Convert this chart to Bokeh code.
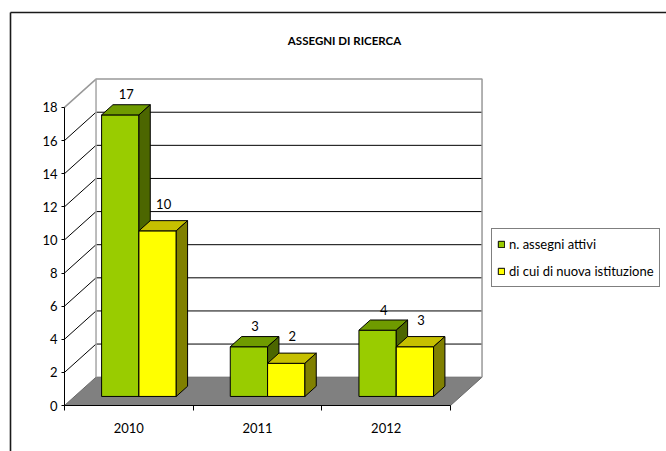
from bokeh.plotting import figure
from bokeh.models import (Range1d, FixedTicker, Legend, LegendItem, Label, LinearAxis)
from bokeh.core.properties import value
from bokeh.embed import file_html
from bokeh.resources import INLINE

# ---------------- data ----------------
title_text = "ASSEGNI DI RICERCA"
years = ["2010", "2011", "2012"]
series_names = ["n. assegni attivi", "di cui di nuova istituzione"]
attivi = [17, 3, 4]
nuova = [10, 2, 3]
y_ticks = [0, 2, 4, 6, 8, 10, 12, 14, 16, 18]

# ---------------- layout constants ----------------
W, H = 666, 451
ORIGIN_X, ORIGIN_Y = 64, 405      # canvas px of data point (0, 0)
SX, SY = 128.67, 16.56            # px per category unit / per value unit
DX, DY = 0.245, 1.71              # full depth offset in data units
Z_FRONT, Z_BACK = 0.32, 0.68
GAP, BAR_W = 0.21, 0.29
Y_MAX = y_ticks[-1]
NCAT = len(years)
FONT = "Lato"

def px_to_x(px):
    return (px - ORIGIN_X) / SX

def py_to_y(py):
    return (ORIGIN_Y - py) / SY

def proj(x, y, z):
    return x + z * DX, y + z * DY

p = figure(width=W, height=H, output_backend="svg", toolbar_location=None,
           x_range=Range1d(px_to_x(0), px_to_x(W)),
           y_range=Range1d(py_to_y(H), py_to_y(0)),
           x_axis_type=None, y_axis_type=None, min_border=0)
p.outline_line_color = None
p.xgrid.visible = False
p.ygrid.visible = False
p.background_fill_color = "white"
p.border_fill_color = "white"

# chart-area border (left and top)
bx, by = px_to_x(10), py_to_y(12)
p.segment(x0=[bx, bx], y0=[py_to_y(H), by], x1=[bx, px_to_x(W)], y1=[by, by],
          line_color="#1a1a1a", line_width=1.6)

# ---------------- walls and floor ----------------
# left wall
p.patch(x=[0, DX, DX, 0], y=[0, DY, Y_MAX + DY, Y_MAX], fill_color="white", line_color=None)
# back wall
p.patch(x=[DX, NCAT + DX, NCAT + DX, DX], y=[DY, DY, Y_MAX + DY, Y_MAX + DY],
        fill_color="white", line_color=None)
# floor
p.patch(x=[0, NCAT, NCAT + DX, DX], y=[0, 0, DY, DY], fill_color="#808080", line_color="#6a6a6a",
        line_width=1)

grid_vals = [v for v in y_ticks if 0 < v < Y_MAX]
# gridlines on left wall
p.segment(x0=[0] * len(grid_vals), y0=grid_vals, x1=[DX] * len(grid_vals),
          y1=[v + DY for v in grid_vals], line_color="black", line_width=1)
# gridlines on back wall
p.segment(x0=[DX] * len(grid_vals), y0=[v + DY for v in grid_vals],
          x1=[NCAT + DX] * len(grid_vals), y1=[v + DY for v in grid_vals],
          line_color="black", line_width=1)
# wall edges (grey)
p.line(x=[0, DX, NCAT + DX, NCAT + DX], y=[Y_MAX, Y_MAX + DY, Y_MAX + DY, DY],
       line_color="#999999", line_width=1.5)
p.line(x=[DX, DX], y=[DY, Y_MAX + DY], line_color="#a6a6a6", line_width=1.5)

# ---------------- 3D bars ----------------
styles = [
    dict(front="#99CC00", top="#6F9B00", side="#4C6600"),
    dict(front="#FFFF00", top="#C6C000", side="#808000"),
]
label_dy = [1.79, 2.18]
LABEL_DX = 0.047
front_renderers = []
for s, vals in enumerate([attivi, nuova]):
    fx, fy, tx, ty, sx_, sy_ = [], [], [], [], [], []
    lx, ly, lt = [], [], []
    for c, v in enumerate(vals):
        x0 = c + GAP + s * BAR_W
        x1 = x0 + BAR_W
        pts = [proj(x0, 0, Z_FRONT), proj(x1, 0, Z_FRONT), proj(x1, v, Z_FRONT), proj(x0, v, Z_FRONT)]
        fx.append([q[0] for q in pts]); fy.append([q[1] for q in pts])
        pts = [proj(x0, v, Z_FRONT), proj(x1, v, Z_FRONT), proj(x1, v, Z_BACK), proj(x0, v, Z_BACK)]
        tx.append([q[0] for q in pts]); ty.append([q[1] for q in pts])
        pts = [proj(x1, 0, Z_FRONT), proj(x1, 0, Z_BACK), proj(x1, v, Z_BACK), proj(x1, v, Z_FRONT)]
        sx_.append([q[0] for q in pts]); sy_.append([q[1] for q in pts])
        cx, _ = proj((x0 + x1) / 2, 0, Z_FRONT)
        lx.append(cx + LABEL_DX)
        ly.append(v + label_dy[s])
        lt.append(str(v))
    st = styles[s]
    r = p.patches(xs=fx, ys=fy, fill_color=st["front"], line_color="black", line_width=1)
    p.patches(xs=tx, ys=ty, fill_color=st["top"], line_color="black", line_width=1)
    p.patches(xs=sx_, ys=sy_, fill_color=st["side"], line_color="black", line_width=1)
    front_renderers.append(r)
    p.text(x=lx, y=ly, text=lt, text_font=value(FONT), text_font_size="13px",
           text_align="center", text_baseline="middle", text_color="black")

# ---------------- axes ----------------
yaxis = LinearAxis(ticker=FixedTicker(ticks=y_ticks, minor_ticks=[]), fixed_location=0,
                   bounds=(0, Y_MAX))
yaxis.axis_line_color = "black"
yaxis.major_tick_line_color = "black"
yaxis.major_tick_out = 3
yaxis.major_tick_in = 0
yaxis.major_label_standoff = 4
yaxis.major_label_text_font = FONT
yaxis.major_label_text_font_size = "13px"
yaxis.major_label_text_color = "black"
p.add_layout(yaxis, "left")

cat_centers = [c + 0.5 for c in range(NCAT)]
cat_edges = [c for c in range(NCAT + 1)]
xaxis = LinearAxis(ticker=FixedTicker(ticks=cat_centers, minor_ticks=cat_edges), fixed_location=0,
                   bounds=(0, NCAT),
                   major_label_overrides={cc: yr for cc, yr in zip(cat_centers, years)})
xaxis.axis_line_color = "black"
xaxis.major_tick_line_color = None
xaxis.major_tick_out = 0
xaxis.major_tick_in = 0
xaxis.minor_tick_line_color = "black"
xaxis.minor_tick_out = 5
xaxis.minor_tick_in = 0
xaxis.major_label_standoff = 12
xaxis.major_label_text_font = FONT
xaxis.major_label_text_font_size = "13px"
xaxis.major_label_text_color = "black"
p.add_layout(xaxis, "below")

# ---------------- title ----------------
p.add_layout(Label(x=px_to_x(344), y=py_to_y(40), text=title_text, text_font=FONT,
                   text_font_size="11.5px", text_font_style="bold", text_align="center",
                   text_baseline="middle", text_color="black"))

# ---------------- legend ----------------
legend = Legend(items=[LegendItem(label=series_names[i], renderers=[front_renderers[i]])
                       for i in range(2)],
                location=(491, H - 287), orientation="vertical",
                glyph_width=8, glyph_height=8, label_standoff=4, padding=5, spacing=7,
                label_height=20, margin=0,
                label_text_font=FONT, label_text_font_size="13px", label_text_color="black",
                border_line_color="black", border_line_width=1,
                background_fill_color="white", background_fill_alpha=1)
p.add_layout(legend)

open("out.html", "w").write(file_html(p, INLINE))
